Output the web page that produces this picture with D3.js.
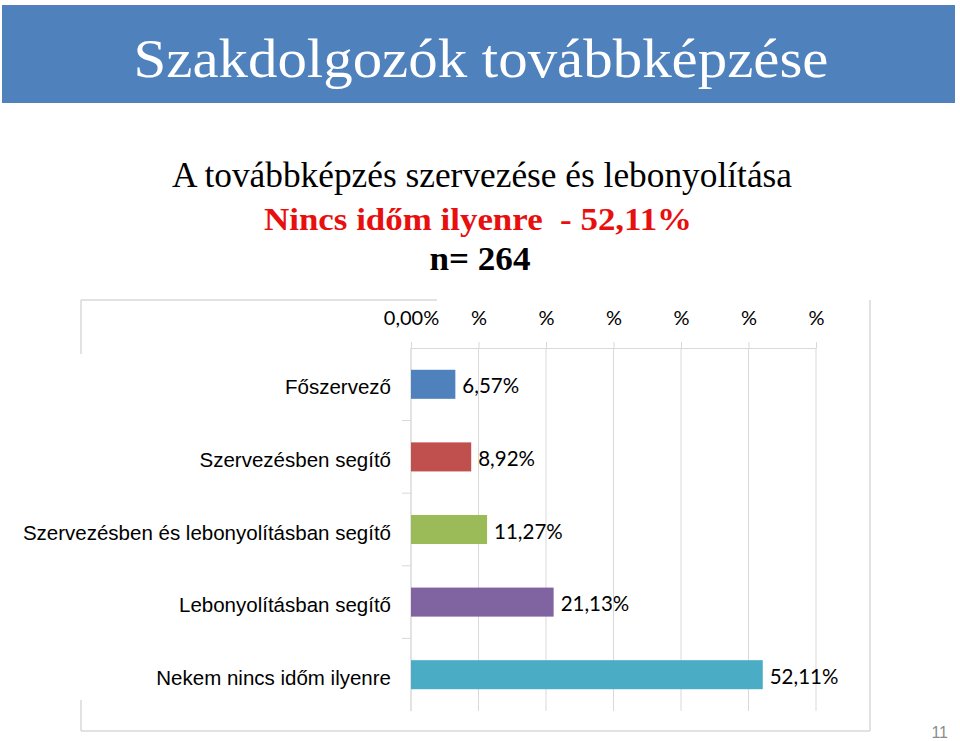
<!DOCTYPE html>
<html>
<head>
    <meta charset="utf-8">
    <title>szakdolgozok-tovabbkepzese</title>
    <style>
body { margin: 0; background: #fff; }
.frame { stroke: #d9d9d9; stroke-width: 1.5; fill: none; }
.grid line { stroke: #d9d9d9; stroke-width: 1; }
.axis path, .axis line { stroke: #d9d9d9; }
</style>
</head>
<body>
<script src="https://cdn.jsdelivr.net/npm/d3@7"></script>
<script>
    /* the data */
    var categories = ["Főszervező", "Szervezésben segítő", "Szervezésben és lebonyolításban segítő",
        "Lebonyolításban segítő", "Nekem nincs időm ilyenre"];
    var values = [6.57, 8.92, 11.27, 21.13, 52.11];
    var colors = ["#4f81bd", "#c0504d", "#9bbb59", "#8064a2", "#4bacc6"];
    var tickValues = [0, 10, 20, 30, 40, 50, 60];
    var tickLabels = ["0,00%", "%", "%", "%", "%", "%", "%"];

    var totalWidth = 960, totalHeight = 741;

    /* plot area inside the slide */
    var plot = { left: 411, right: 816, top: 348, bottom: 711 };
    var frame = { left: 81, right: 870, top: 300, bottom: 731 };

    var svg = d3.select("body").append("svg")
        .attr("width", totalWidth)
        .attr("height", totalHeight)
        .style("display", "block");

    /* title banner */
    svg.append("rect")
        .attr("x", 2).attr("y", 5)
        .attr("width", 953).attr("height", 98)
        .attr("fill", "#4f81bd");

    /* the slide text is stretched a little, so the widths are pinned with textLength */
    function slideText(x, y, size, weight, color, width, str) {
        return svg.append("text")
            .attr("x", x).attr("y", y)
            .attr("text-anchor", "middle")
            .attr("textLength", width)
            .attr("lengthAdjust", "spacingAndGlyphs")
            .style("font-family", "'Liberation Serif', 'Times New Roman', serif")
            .style("font-size", size + "px")
            .style("font-weight", weight)
            .style("white-space", "pre")
            .attr("fill", color)
            .text(str);
    }

    slideText(481, 77, 55, "normal", "#fff", 695, "Szakdolgozók továbbképzése");
    slideText(482, 187, 36, "normal", "#000", 620, "A továbbképzés szervezése és lebonyolítása");
    slideText(478, 230, 32, "bold", "#e8100f", 428, "Nincs időm ilyenre  - 52,11%");
    slideText(480, 270, 33, "bold", "#000", 101, "n= 264");

    /* chart frame - parts of it are hidden behind the label boxes on the slide */
    var frameSegments = [
        [[frame.left, frame.top], [437, frame.top]],
        [[frame.left, frame.top], [frame.left, 354]],
        [[frame.left, 700], [frame.left, frame.bottom]],
        [[frame.left, frame.bottom], [frame.right, frame.bottom]],
        [[frame.right, frame.top], [frame.right, frame.bottom]]
    ];
    svg.selectAll(".frame")
        .data(frameSegments)
        .enter()
        .append("path")
        .attr("class", "frame")
        .attr("d", function (d) { return d3.line()(d); });

    var x = d3.scaleLinear()
        .domain([0, 60])
        .range([plot.left, plot.right]);

    var y = d3.scaleBand()
        .domain(categories)
        .range([plot.top, plot.bottom])
        .paddingInner(0.6)
        .paddingOuter(0.3);

    /* vertical gridlines */
    svg.append("g")
        .attr("class", "grid")
        .selectAll("line")
        .data(tickValues)
        .enter()
        .append("line")
        .attr("x1", function (d) { return x(d); })
        .attr("x2", function (d) { return x(d); })
        .attr("y1", plot.top)
        .attr("y2", plot.bottom);

    /* top axis */
    var xAxis = svg.append("g")
        .attr("class", "axis")
        .attr("transform", "translate(0," + plot.top + ")")
        .call(d3.axisTop(x)
            .tickValues(tickValues)
            .tickSizeInner(6)
            .tickSizeOuter(0)
            .tickFormat(function (d, i) { return tickLabels[i]; }));
    xAxis.selectAll("text")
        .attr("y", -23)
        .style("font-family", "Lato, 'Open Sans', sans-serif")
        .style("font-size", "20px")
        .attr("fill", "#000");

    /* left axis: only the category separators */
    var yAxis = svg.append("g")
        .attr("class", "axis")
        .attr("transform", "translate(" + plot.left + ",0)");
    yAxis.append("line")
        .attr("y1", plot.top).attr("y2", plot.bottom);
    yAxis.selectAll(".sep")
        .data(categories.slice(1))
        .enter()
        .append("line")
        .attr("class", "sep")
        .attr("x1", -9).attr("x2", 0)
        .attr("y1", function (d) { return y(d) - y.step() * y.paddingInner() / 2; })
        .attr("y2", function (d) { return y(d) - y.step() * y.paddingInner() / 2; });

    /* category labels */
    svg.selectAll(".catLabel")
        .data(categories)
        .enter()
        .append("text")
        .attr("class", "catLabel")
        .attr("x", 391)
        .attr("y", function (d) { return y(d) + y.bandwidth() / 2 + 10; })
        .attr("text-anchor", "end")
        .style("font-family", "'Liberation Sans', Arial, sans-serif")
        .style("font-size", "20.5px")
        .attr("fill", "#000")
        .text(function (d) { return d; });

    /* bars */
    svg.selectAll(".bar")
        .data(values)
        .enter()
        .append("rect")
        .attr("class", "bar")
        .attr("x", x(0))
        .attr("y", function (d, i) { return y(categories[i]); })
        .attr("width", function (d) { return x(d) - x(0); })
        .attr("height", y.bandwidth())
        .attr("fill", function (d, i) { return colors[i]; });

    /* value labels */
    svg.selectAll(".valLabel")
        .data(values)
        .enter()
        .append("text")
        .attr("class", "valLabel")
        .attr("x", function (d) { return x(d) + 7; })
        .attr("y", function (d, i) { return y(categories[i]) + y.bandwidth() / 2 + 9; })
        .style("font-family", "Lato, 'Open Sans', sans-serif")
        .style("font-size", "20.5px")
        .attr("fill", "#000")
        .text(function (d) { return d.toFixed(2).replace(".", ",") + "%"; });

    /* slide number */
    svg.append("text")
        .attr("x", 948).attr("y", 738)
        .attr("text-anchor", "end")
        .style("font-family", "'Liberation Sans', Arial, sans-serif")
        .style("font-size", "16px")
        .attr("fill", "#8c8c8c")
        .text("11");
</script>
</body>
</html>
